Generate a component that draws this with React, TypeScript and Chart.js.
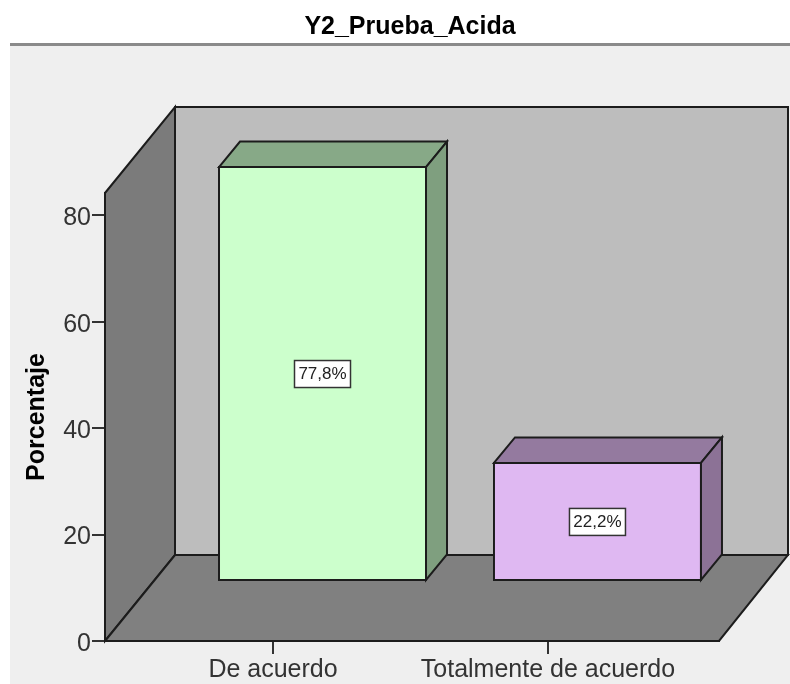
import React, { useEffect, useRef } from "react";
import { Chart, registerables } from "chart.js";

Chart.register(...registerables);

const chartTitle = "Y2_Prueba_Acida";
const yAxisTitle = "Porcentaje";
const categories = ["De acuerdo", "Totalmente de acuerdo"];
const percentages = [77.8, 22.2];
const percentLabels = ["77,8%", "22,2%"];
const frontColors = ["#ccffcc", "#dfb8f2"];
const topColors = ["#87a987", "#947a9f"];
const sideColors = ["#7f9f7f", "#8c7296"];
const yTickStep = 20;
const yMax = 84.2;
const xMin = -0.611;
const xMax = 1.622;

const FONT = "'Liberation Sans', Arial, sans-serif";
const EDGE = "#1c1c1c";

const poly = (ctx: CanvasRenderingContext2D, pts: number[][], fill: string, stroke = EDGE) => {
  ctx.beginPath();
  pts.forEach(([x, y], i) => (i ? ctx.lineTo(x, y) : ctx.moveTo(x, y)));
  ctx.closePath();
  ctx.fillStyle = fill;
  ctx.fill();
  ctx.lineWidth = 2;
  ctx.strokeStyle = stroke;
  ctx.lineJoin = "miter";
  ctx.stroke();
};

const scene3d = {
  id: "scene3d",
  beforeDraw(chart: any) {
    const { ctx, width, height, scales } = chart;
    const { left: l, right: r } = scales.x;
    const { top: t, bottom: b } = scales.y;
    const dx = 70;
    const dy = -86;
    ctx.save();
    ctx.fillStyle = "#ffffff";
    ctx.fillRect(0, 0, width, height);
    ctx.fillStyle = "#efefef";
    ctx.fillRect(10, 45, width - 10, height - 45);
    ctx.fillStyle = "#8a8a8a";
    ctx.fillRect(10, 43, width - 10, 3);
    poly(ctx, [[l + dx, t + dy], [r + dx - 1, t + dy], [r + dx - 1, b + dy], [l + dx, b + dy]], "#bdbdbd");
    poly(ctx, [[l, t], [l + dx, t + dy], [l + dx, b + dy], [l, b]], "#7b7b7b");
    poly(ctx, [[l, b], [r, b], [r + dx - 1, b + dy], [l + dx, b + dy]], "#808080");
    ctx.restore();
  },
  beforeDatasetsDraw(chart: any) {
    chart.ctx.save();
    chart.ctx.translate(49.5, -60);
  },
  afterDatasetsDraw(chart: any) {
    const { ctx } = chart;
    const bars = chart.getDatasetMeta(0).data;
    const dx = 21;
    const dy = -25.5;
    bars.forEach((bar: any, i: number) => {
      const { x, y, base, width } = bar.getProps(["x", "y", "base", "width"], true);
      const a = x - width / 2;
      const c = x + width / 2;
      poly(ctx, [[a, y], [a + dx, y + dy], [c + dx, y + dy], [c, y]], topColors[i]);
      poly(ctx, [[c, y], [c + dx, y + dy], [c + dx, base + dy], [c, base]], sideColors[i]);
      const cy = (y + base) / 2;
      ctx.fillStyle = "#ffffff";
      ctx.fillRect(x - 28, cy - 13, 56, 27);
      ctx.lineWidth = 1.5;
      ctx.strokeStyle = "#333333";
      ctx.strokeRect(x - 28, cy - 13, 56, 27);
      ctx.fillStyle = "#222222";
      ctx.font = `17px ${FONT}`;
      ctx.textAlign = "center";
      ctx.textBaseline = "middle";
      ctx.fillText(percentLabels[i], x, cy + 1);
    });
    ctx.restore();
  },
};

export default function App() {
  const ref = useRef<HTMLCanvasElement>(null);
  useEffect(() => {
    document.body.style.margin = "0";
    const chart = new Chart(ref.current as HTMLCanvasElement, {
      type: "bar",
      data: {
        datasets: [
          {
            data: percentages.map((y, x) => ({ x, y })),
            backgroundColor: frontColors,
            borderColor: EDGE,
            borderWidth: 2,
            borderSkipped: false,
            inflateAmount: 1,
            barThickness: 207,
            clip: false,
          } as any,
        ],
      },
      options: {
        responsive: false,
        animation: false,
        layout: { padding: { left: 30, right: 0, top: 0, bottom: 0 } },
        plugins: {
          legend: { display: false },
          tooltip: { enabled: false },
          title: {
            display: true,
            text: chartTitle,
            color: "#000000",
            font: { family: FONT, size: 25, weight: "bold" },
            padding: { top: 12, bottom: 151 },
          },
        },
        scales: {
          x: {
            type: "linear",
            position: "bottom",
            min: xMin,
            max: xMax,
            offset: false,
            afterBuildTicks: (s: any) => {
              s.ticks = categories.map((_, value) => ({ value }));
            },
            afterFit: (s: any) => {
              s.height = 43;
            },
            grid: {
              offset: false,
              drawOnChartArea: false,
              drawTicks: true,
              tickLength: 13,
              color: "#333333",
              lineWidth: 2,
            },
            border: { color: EDGE, width: 2 },
            ticks: {
              callback: (_: any, i: number) => categories[i],
              color: "#333333",
              font: { family: FONT, size: 25 },
              padding: 1,
              maxRotation: 0,
              autoSkip: false,
              includeBounds: false,
            },
          },
          y: {
            type: "linear",
            position: "left",
            min: 0,
            max: yMax,
            afterFit: (s: any) => {
              s.width = 75;
            },
            title: {
              display: true,
              text: yAxisTitle,
              color: "#000000",
              font: { family: FONT, size: 25, weight: "bold", lineHeight: 0.6 },
              padding: 0,
            },
            grid: {
              drawOnChartArea: false,
              drawTicks: true,
              tickLength: 13,
              color: "#333333",
              lineWidth: 2,
            },
            border: { color: EDGE, width: 2 },
            ticks: {
              stepSize: yTickStep,
              includeBounds: false,
              color: "#333333",
              font: { family: FONT, size: 25 },
              padding: 1,
              labelOffset: 3,
            },
          },
          rightGutter: {
            type: "linear",
            position: "right",
            display: true,
            afterFit: (s: any) => {
              s.width = 71;
            },
            grid: { display: false },
            border: { display: false },
            ticks: { display: false },
          },
        },
      } as any,
      plugins: [scene3d as any],
    });
    return () => chart.destroy();
  }, []);
  return <canvas ref={ref} width={790} height={684} style={{ display: "block" }} />;
}
